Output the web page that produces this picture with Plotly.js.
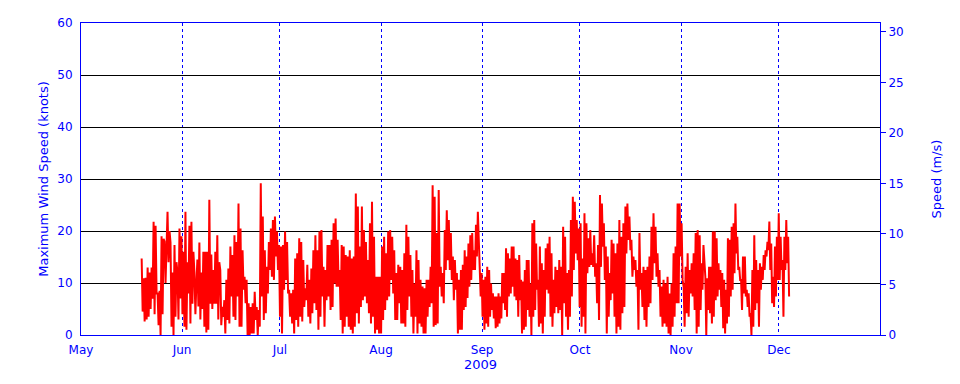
<!DOCTYPE html>
<html>
<head>
<meta charset="utf-8">
<script src="https://cdn.plot.ly/plotly-3.0.1.min.js"></script>
<style>html,body{margin:0;padding:0;background:#fff;}#chart{width:960px;height:384px;}</style>
</head>
<body>
<div id="chart"></div>
<script>
// Segment boundary dates (split by segment)
const segmentBounds = ['2009-05-19T14:24','2009-06-12T17:00','2009-07-06T22:00','2009-07-31T17:00','2009-08-25T12:00','2009-09-18T17:00','2009-10-13T02:00','2009-11-06T17:00','2009-12-04T10:00'];

// Maximum wind speed, knots
const speedMayJun = [14.7,4.5,10.9,2.6,11,3.0,13,3.5,12,5,13,7,21.8,4,21,8,8,1.9,8.5,0,19,4,18.5,18,10,15,23.7,14,20,17.8,1.6,12,0,17.3,3.5,14,12,3,20.5,7,19,4,16,1.6,23.7,1,14,8,21,2.2,21.8,6,16,12,4,10,14.5,5.5,17.8,3,12,5,16,1.6,16,0.5,16,1,26,6,15.5,5,12.5,6,16,6,19.2,3,14];
const speedJunJul = [12.5,1.9,5.4,3.5,6.7,0.3,10.6,2.9,12.8,2.2,17,7.4,15.4,3.5,19.2,2.9,17.9,7.4,25.3,1.6,20.5,1.6,16.3,8.7,11.2,6.1,10.6,0,6.1,0,5.4,0.3,6.1,0.3,8.3,2.9,5.4,0,4.8,1.6,29.2,7.4,22.8,2.9,16.3,4.2,13.1,8,17.9,12.5,20.5,11.2,22.1,10.6,22.8,15.1,19.9,12.5,17.3,3.5,17,0.3,17.3,8.7,19.9,10.6,17.9,8,8.7,3.5,8,2.2,8.7,0.3,14.7,2.9,15.7,1.6];
const speedJul = [18.6,3.5,17.9,2.6,14.4,5.4,9,6.7,13.5,3.5,10.6,2.2,12.8,4.2,16.3,6.1,19.2,4.8,16.3,1,19.9,3.5,20.2,7.4,13.1,1.6,12.5,6.7,17.3,7.4,17.3,4.8,18.3,5.4,21.5,9.9,22.4,9.3,18.3,9.3,12.5,2.9,17.3,0.3,17,1.6,15.4,3.5,15.1,1.6,16.3,1,14.7,0.3,15.1,1.6,27.2,4.2,24.7,2.2,17,5.4,24.7,6.7,20.2,7.4,17.9,6.1,14.4,4.2,21.5,2.2,25.6,3.5,18.9,0.3,11.2,1,11.2,0.3];
const speedAug = [11.2,0.3,17,2.9,18.9,4.8,15.7,6.7,19.9,7.4,20.2,10.6,18.9,8,16.3,2.9,11.9,2.9,13.5,6.1,13.1,2.2,12.5,2.2,15.7,1.6,21.2,4.8,18.9,7.4,15.4,3.5,12.5,0.3,9.9,3.5,16.3,0.3,14.4,2.2,10.6,1.6,9.3,0.3,9.0,0.3,10.6,3.5,10.6,5.4,13.1,6.1,28.8,1.6,26.6,1.9,19.6,2.2,27.9,9.3,13.1,7.4,11.9,6.1,20.2,12.5,24,14.4,22.1,12.5,19.6,10.6,15.1,6.7,14.4,8.7,11.9,0.3,10.6,1];
const speedAugSep = [12.5,1,13.5,4.8,16.3,5.4,15.1,7.1,17.6,9.3,19.2,10.6,19.6,12.5,16.3,12.5,21.2,15.1,23.7,17,12.5,7.4,11.9,3.5,10.6,1,11.2,2.2,13.1,1.6,12.5,3.5,9.9,4.8,8,3.2,7.4,1.3,7.4,1.6,8,2.2,7.4,3.2,11.9,6.1,11.9,4.8,16.7,3.5,15.7,7.4,14.7,8,17,9.3,17,7.4,14.7,6.7,14.4,3.5,15.4,6.7,10.6,0.3,10.3,1,12.5,1.6,14.4,4.8,14.4,3.5,9.9,0,21.5,3.5,22.1,4.8,17.6,8.7,10.6,1.6];
const speedSepOct = [17,2.2,13.8,0.3,12.5,3.5,16.7,8.7,17.6,8,18.9,3.5,15.7,1.6,10.6,4.2,13.1,5.4,12.5,4.2,14.4,4.8,13.1,0,20.8,6.1,18.9,3.5,11.9,1,12.5,3.5,22.1,7.4,26.6,12.5,25.6,15.7,22.1,14.4,20.5,5.4,21.5,1.6,14.7,3.5,23.4,0.3,21.5,11.9,18.6,13.1,20.2,13.5,15.7,13.1,19.2,11.2,13.8,6.1,17.3,2.9,26.9,13.1,25.3,17,21.5,10.6,17,0.3,15.1,3.5,11.9,6.7,18.3,8,17.6,3.5,15.7,0.3,17.6,1.6];
const speedOctNov = [22.1,1,18.9,4.2,21.5,5.4,24.7,15.7,25.3,18.3,22.8,16.3,18.3,11.2,15.1,12.5,14.4,9.3,12.5,1,19.6,8.7,11.9,5.4,13.1,2.9,12.5,1.6,13.1,5.4,15.1,6.1,20.8,10.6,23.4,13.8,20.8,11.2,15.7,9.3,12.5,3.5,9.3,1.6,10.6,2.2,9.9,1.6,11.2,0.3,8,0,9.9,1.6,15.7,3.5,17,6.1,25.3,6.1,25.3,15.1,21.5,10.6,9.3,1.6,13.1,4.2,15.7,3.5,12.5,8,13.8,7.4,15.7,4.8,19.6,0.3,20.2,1.6];
const speedNovDec = [19.2,4.8,13.8,8.7,17.3,12.5,11.2,0,10.9,4.8,13.1,4.2,13.1,2.2,19.9,3.5,19.9,6.7,18.6,7.4,13.8,8.7,12.5,5.4,11.9,1.3,10.6,0.3,8.7,2.2,18.6,3.5,18.3,7.4,20.8,8.7,21.5,11.9,25.3,15.7,18.9,12.5,13.1,10.6,10.6,4.8,15.1,8,15.1,7.4,8.7,5.4,8,3.5,4.2,0,12.5,1.6,19.2,4.8,14.4,6.1,12.5,1.6,13.8,8.7,13.1,10.6,15.4,12.5,16.3,15.1,17.9,16.3,21.8,12.5,17.6,6.1,11.2,5.4,17,7.4,18.9,10.6,23.4,10.6,18.9,12.5,14.4,3.5,18.9,12.5,22.1,13.8,18.9,7.4];

const tickDates = ['2009-05-01','2009-06-01','2009-07-01','2009-08-01','2009-09-01','2009-10-01','2009-11-01','2009-12-01'];
const tickLabels = ['May','Jun','Jul','Aug','Sep','Oct','Nov','Dec'];
const knotsToMs = 1 / 1.94384;

const segments = [speedMayJun, speedJunJul, speedJul, speedAug, speedAugSep, speedSepOct, speedOctNov, speedNovDec];
const xs = [], ys = [];
segments.forEach((vals, i) => {
  const t0 = new Date(segmentBounds[i] + ':00Z').getTime();
  const t1 = new Date(segmentBounds[i + 1] + ':00Z').getTime();
  const n = vals.length;
  vals.forEach((v, k) => {
    const t = t0 + (t1 - t0) * k / n;
    xs.push(new Date(t).toISOString().slice(0, 19).replace('T', ' '));
    ys.push(v);
  });
});

const BLUE = '#0000ff';
const FONT = 'DejaVu Sans, sans-serif';

const traces = [
  {x: xs, y: ys, type: 'scatter', mode: 'lines', line: {color: '#ff0000', width: 2}, hoverinfo: 'skip', showlegend: false},
  {x: [], y: [], type: 'scatter', mode: 'lines', yaxis: 'y2', showlegend: false, hoverinfo: 'skip'}
];

const layout = {
  width: 960, height: 384,
  margin: {l: 81, r: 80, t: 23, b: 49, pad: 0},
  paper_bgcolor: '#ffffff', plot_bgcolor: '#ffffff',
  font: {family: FONT, color: BLUE, size: 12},
  showlegend: false,
  xaxis: {
    type: 'date', range: ['2009-05-01', '2010-01-01'],
    tickmode: 'array', tickvals: tickDates, ticktext: tickLabels,
    ticks: 'outside', ticklen: 4, tickcolor: 'rgba(0,0,0,0)',
    showgrid: true, gridcolor: BLUE, griddash: 'dot', gridwidth: 1,
    showline: true, linecolor: BLUE, linewidth: 1, mirror: true, zeroline: false,
    tickfont: {family: FONT, color: BLUE, size: 12},
    title: {text: '2009', font: {family: FONT, color: BLUE, size: 13}, standoff: 2}
  },
  yaxis: {
    range: [0, 60], tickvals: [0, 10, 20, 30, 40, 50, 60],
    ticks: 'outside', ticklen: 5, tickcolor: 'rgba(0,0,0,0)',
    showgrid: true, gridcolor: '#000000', gridwidth: 1,
    showline: true, linecolor: BLUE, linewidth: 1, zeroline: false,
    tickfont: {family: FONT, color: BLUE, size: 12},
    title: {text: 'Maximum Wind Speed (knots)', font: {family: FONT, color: BLUE, size: 13}, standoff: 5}
  },
  yaxis2: {
    overlaying: 'y', side: 'right', anchor: 'x',
    range: [0, 60 * knotsToMs], tickvals: [0, 5, 10, 15, 20, 25, 30],
    ticks: 'outside', ticklen: 5, tickcolor: BLUE, tickwidth: 1,
    showgrid: false, zeroline: false,
    showline: true, linecolor: BLUE, linewidth: 1,
    tickfont: {family: FONT, color: BLUE, size: 12},
    title: {text: 'Speed (m/s)', font: {family: FONT, color: BLUE, size: 13}, standoff: 29}
  }
};

Plotly.newPlot('chart', traces, layout, {staticPlot: true, displayModeBar: false});
</script>
</body>
</html>
